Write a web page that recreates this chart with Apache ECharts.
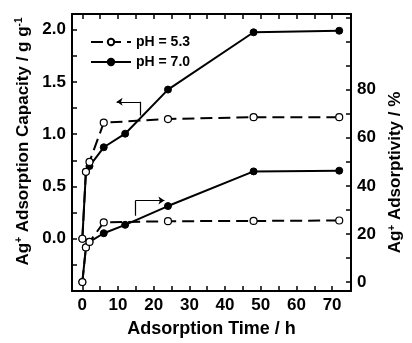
<!DOCTYPE html>
<html>
<head>
<meta charset="utf-8">
<script src="https://cdn.jsdelivr.net/npm/echarts@6/dist/echarts.min.js"></script>
<style>
  html, body { margin: 0; padding: 0; background: #fff; }
  #chart { width: 412px; height: 343px; }
</style>
</head>
<body>
<div id="chart"></div>
<script>
// adsorption time (h)
const timesPh53 = [0, 1, 2, 6, 24, 48, 72];
const timesPh70 = [0, 1, 2, 6, 12, 24, 48, 72];

// adsorption capacity (g/g), left axis
const capacityPh53 = [0, 0.64, 0.735, 1.11, 1.145, 1.163, 1.163];
const capacityPh70 = [0, 0.64, 0.695, 0.875, 1.005, 1.427, 1.975, 1.99];

// adsorptivity (%), right axis
const adsorptivityPh53 = [0, 14.4, 16.7, 24.8, 25.3, 25.4, 25.6];
const adsorptivityPh70 = [0, 14.4, 16.7, 20.3, 23.8, 31.6, 46.0, 46.3];

// tick labels
const timeTicks = [0, 10, 20, 30, 40, 50, 60, 70];
const timeMinorTicks = [0, 5, 10, 15, 20, 25, 30, 35, 40, 45, 50, 55, 60, 65, 70];
const capacityTicks = [0, 0.5, 1.0, 1.5, 2.0];
const capacityMinorTicks = [-0.25, 0, 0.25, 0.5, 0.75, 1.0, 1.25, 1.5, 1.75, 2.0];
const adsorptivityTicks = [0, 20, 40, 60, 80];
const adsorptivityMinorTicks = [0, 10, 20, 30, 40, 50, 60, 70, 80, 90, 100, 110];

// arrows telling which axis each pair of curves belongs to
// (hook corner, bend, arrow tip)
const capacityArrow = [[16.3, 1.18], [16.3, 1.31], [9.6, 1.31]];
const adsorptivityArrow = [[14.9, 27.6], [14.9, 33.9], [23.0, 33.9]];

const FONT = '"Liberation Sans", Arial, sans-serif';
const pairs = (xs, ys) => xs.map((x, i) => [x, ys[i]]);

const chart = echarts.init(document.getElementById('chart'));

const axisLine = { show: true, onZero: false, lineStyle: { color: '#000', width: 2 } };
const tickStyle = { color: '#000', width: 1.5 };
const labelStyle = { color: '#000', fontFamily: FONT, fontWeight: 'bold', fontSize: 17 };
const nameStyle = {
  color: '#000', fontFamily: FONT, fontWeight: 'bold', fontSize: 17,
  rich: {
    sup: { fontSize: 10, fontWeight: 'bold', fontFamily: FONT, verticalAlign: 'top', color: '#000' }
  }
};

const lineSeries = (name, data, yAxisIndex, dashed) => ({
  name: name,
  type: 'line',
  yAxisIndex: yAxisIndex,
  data: data,
  symbol: 'circle',
  symbolSize: 7,
  showAllSymbol: true,
  z: dashed ? 4 : 3,
  lineStyle: { color: '#000', width: 2, type: dashed ? [12, 6] : 'solid' },
  itemStyle: dashed
    ? { color: '#fff', borderColor: '#000', borderWidth: 1.2 }
    : { color: '#000', borderColor: '#000', borderWidth: 1 },
  emphasis: { disabled: true }
});

const arrowSeries = (pts, yAxisIndex) => ({
  type: 'lines',
  coordinateSystem: 'cartesian2d',
  xAxisIndex: 0,
  yAxisIndex: yAxisIndex,
  lineStyle: { color: '#000', width: 1.2, opacity: 1 },
  data: [
    { coords: [pts[0], pts[1]], symbol: ['none', 'none'] },
    { coords: [pts[1], pts[2]], symbol: ['none', 'arrow'], symbolSize: 6 }
  ],
  silent: true,
  z: 2
});

const options = {
  animation: false,
  backgroundColor: '#fff',
  grid: { left: 72, right: 56, top: 14, bottom: 47 },
  legend: {
    data: ['pH = 5.3', 'pH = 7.0'],
    orient: 'vertical',
    left: 85,
    top: 30,
    itemWidth: 40,
    itemHeight: 8,
    itemGap: 6,
    textStyle: { color: '#000', fontFamily: FONT, fontWeight: 'bold', fontSize: 14 }
  },
  xAxis: [
    {
      type: 'value',
      position: 'bottom',
      min: -2.9,
      max: 75.3,
      name: 'Adsorption Time / h',
      nameLocation: 'middle',
      nameGap: 29,
      nameTextStyle: { color: '#000', fontFamily: FONT, fontWeight: 'bold', fontSize: 18 },
      axisLine: axisLine,
      axisTick: { show: true, inside: true, length: 5, lineStyle: tickStyle, customValues: timeMinorTicks },
      axisLabel: Object.assign({ margin: 6, customValues: timeTicks }, labelStyle),
      splitLine: { show: false }
    },
    {
      type: 'value',
      position: 'top',
      min: -2.9,
      max: 75.3,
      axisLine: axisLine,
      axisTick: { show: true, inside: true, length: 5, lineStyle: tickStyle, customValues: timeMinorTicks },
      axisLabel: { show: false, customValues: timeTicks },
      splitLine: { show: false }
    }
  ],
  yAxis: [
    {
      type: 'value',
      position: 'left',
      min: -0.5,
      max: 2.15,
      name: 'Ag{sup|+} Adsorption Capacity / g g{sup|-1}',
      nameLocation: 'middle',
      nameGap: 35,
      nameTextStyle: Object.assign({ padding: [0, 0, 0, 22] }, nameStyle),
      axisLine: axisLine,
      axisTick: { show: true, inside: true, length: 5, lineStyle: tickStyle, customValues: capacityMinorTicks },
      axisLabel: Object.assign({
        margin: 6,
        customValues: capacityTicks,
        formatter: (v) => v.toFixed(1)
      }, labelStyle),
      splitLine: { show: false }
    },
    {
      type: 'value',
      position: 'right',
      min: -3.7,
      max: 111.4,
      name: 'Ag{sup|+} Adsorptivity / %',
      nameLocation: 'middle',
      nameGap: 36,
      nameTextStyle: Object.assign({ padding: [0, 40, 0, 0] }, nameStyle),
      axisLine: axisLine,
      axisTick: { show: true, inside: true, length: 5, lineStyle: tickStyle, customValues: adsorptivityMinorTicks },
      axisLabel: Object.assign({ margin: 6, customValues: adsorptivityTicks }, labelStyle),
      splitLine: { show: false }
    }
  ],
  series: [
    lineSeries('pH = 7.0', pairs(timesPh70, capacityPh70), 0, false),
    lineSeries('pH = 7.0', pairs(timesPh70, adsorptivityPh70), 1, false),
    lineSeries('pH = 5.3', pairs(timesPh53, capacityPh53), 0, true),
    lineSeries('pH = 5.3', pairs(timesPh53, adsorptivityPh53), 1, true),
    arrowSeries(capacityArrow, 0),
    arrowSeries(adsorptivityArrow, 1)
  ]
};

chart.setOption(options);
</script>
</body>
</html>
